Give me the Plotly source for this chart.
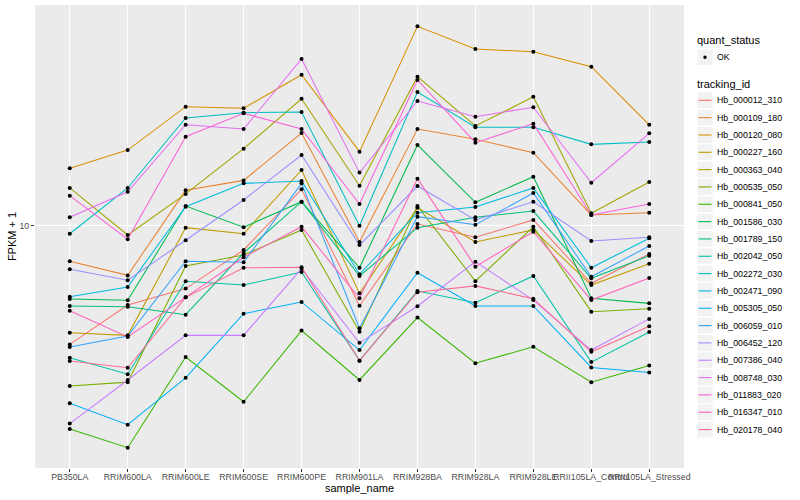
import plotly.graph_objects as go

# ---------------- data ----------------
samples = ["PB350LA", "RRIM600LA", "RRIM600LE", "RRIM600SE", "RRIM600PE",
           "RRIM901LA", "RRIM928BA", "RRIM928LA", "RRIM928LE",
           "RRII105LA_Control", "RRII105LA_Stressed"]

tracking_ids = ["Hb_000012_310", "Hb_000109_180", "Hb_000120_080", "Hb_000227_160",
                "Hb_000363_040", "Hb_000535_050", "Hb_000841_050", "Hb_001586_030",
                "Hb_001789_150", "Hb_002042_050", "Hb_002272_030", "Hb_002471_090",
                "Hb_005305_050", "Hb_006059_010", "Hb_006452_120", "Hb_007386_040",
                "Hb_008748_030", "Hb_011883_020", "Hb_016347_010", "Hb_020178_040"]

colors = ["#F8766D", "#EA8331", "#D89000", "#C09B00", "#A3A500", "#7CAE00",
          "#39B600", "#00BB4E", "#00BF7D", "#00C1A3", "#00BFC4", "#00BAE0",
          "#00B0F6", "#35A2FF", "#9590FF", "#C77CFF", "#E76BF3", "#FA62DB",
          "#FF62BC", "#FF6C91"]

# FPKM + 1 per sample (order of `samples`)
Hb_000012_310 = [4.02, 5.44, 6.17, 8.30, 13.22, 5.41, 10.13, 9.15, 10.45, 6.43, 8.05]
Hb_000109_180 = [7.61, 6.83, 13.12, 14.16, 20.37, 8.82, 21.0, 19.41, 17.51, 10.86, 11.05]
Hb_000120_080 = [15.54, 17.87, 24.93, 24.62, 31.86, 17.65, 46.2, 38.8, 38.0, 33.9, 21.7]
Hb_000227_160 = [4.40, 4.31, 9.85, 9.40, 15.34, 5.95, 11.48, 8.82, 9.68, 6.34, 7.47]
Hb_000363_040 = [13.36, 9.31, 12.76, 18.06, 26.5, 13.59, 31.4, 21.5, 26.9, 11.0, 13.98]
Hb_000535_050 = [2.92, 3.01, 7.34, 7.99, 9.68, 4.43, 11.63, 6.53, 9.92, 5.17, 5.29]
Hb_000841_050 = [2.10, 1.82, 3.65, 2.59, 4.47, 3.06, 4.94, 3.48, 3.95, 3.01, 3.42]
Hb_001586_030 = [5.70, 5.64, 11.63, 9.88, 12.02, 7.24, 18.58, 11.97, 14.57, 5.73, 5.51]
Hb_001789_150 = [5.40, 5.37, 5.05, 8.11, 12.02, 6.80, 9.85, 10.67, 11.19, 6.68, 7.94]
Hb_002042_050 = [3.63, 3.20, 6.53, 6.34, 7.01, 3.55, 6.06, 5.54, 6.80, 3.51, 4.42]
Hb_002272_030 = [9.40, 13.36, 22.86, 23.81, 23.93, 10.0, 27.9, 21.28, 21.28, 18.67, 19.01]
Hb_002471_090 = [5.80, 6.25, 11.57, 13.84, 14.09, 6.89, 11.05, 11.54, 13.36, 7.24, 9.08]
Hb_005305_050 = [2.56, 2.17, 3.11, 5.09, 5.57, 3.85, 6.97, 5.40, 5.40, 3.37, 3.24]
Hb_006059_010 = [3.94, 4.29, 7.61, 7.55, 13.84, 4.55, 10.72, 10.08, 12.85, 6.76, 8.56]
Hb_006452_120 = [7.16, 6.58, 8.94, 12.18, 17.21, 8.62, 13.56, 10.45, 12.02, 8.89, 9.15]
Hb_007386_040 = [2.19, 3.06, 4.31, 4.31, 7.19, 4.07, 5.39, 7.59, 5.65, 3.85, 4.89]
Hb_008748_030 = [10.67, 12.98, 21.7, 21.0, 35.95, 15.03, 26.04, 23.09, 24.82, 13.91, 20.32]
Hb_011883_020 = [12.59, 9.01, 19.8, 23.7, 21.0, 11.81, 30.6, 18.91, 21.88, 10.86, 11.81]
Hb_016347_010 = [5.21, 4.26, 5.77, 7.85, 9.92, 5.73, 14.35, 7.30, 9.55, 5.65, 6.69]
Hb_020178_040 = [3.54, 3.36, 5.77, 7.24, 7.27, 3.55, 6.00, 6.30, 5.71, 3.80, 4.62]

series = [Hb_000012_310, Hb_000109_180, Hb_000120_080, Hb_000227_160, Hb_000363_040,
          Hb_000535_050, Hb_000841_050, Hb_001586_030, Hb_001789_150, Hb_002042_050,
          Hb_002272_030, Hb_002471_090, Hb_005305_050, Hb_006059_010, Hb_006452_120,
          Hb_007386_040, Hb_008748_030, Hb_011883_020, Hb_016347_010, Hb_020178_040]

quant_status = "OK"

# ---------------- figure ----------------
FONT = "Liberation Sans, Arial, sans-serif"
fig = go.Figure()

for name, vals, col in zip(tracking_ids, series, colors):
    fig.add_trace(go.Scatter(x=samples, y=vals, mode="lines", name=name,
                             line=dict(color=col, width=1.05),
                             showlegend=False, hoverinfo="skip"))

pts_x, pts_y = [], []
for vals in series:
    pts_x += samples
    pts_y += vals
fig.add_trace(go.Scatter(x=pts_x, y=pts_y, mode="markers", name=quant_status,
                         marker=dict(color="black", size=4), showlegend=False))

# plot panel geometry (pixels)
W, H = 800, 500
L, R, T, B = 35, 684, 5, 468

fig.update_layout(
    width=W, height=H,
    margin=dict(l=L, r=W - R, t=T, b=H - B, pad=0, autoexpand=False),
    plot_bgcolor="#EBEBEB", paper_bgcolor="white",
    font=dict(family=FONT, color="black"),
    showlegend=False,
)
fig.update_xaxes(
    type="category", range=[-0.6, len(samples) - 0.4], automargin=False,
    showgrid=True, gridcolor="white", gridwidth=1.1, zeroline=False, showline=False,
    ticks="outside", ticklen=3, tickwidth=1, tickcolor="#333333",
    tickangle=0, tickfont=dict(size=8.8, color="#4D4D4D", family=FONT),
    ticklabelstandoff=-3,
    title=dict(text="sample_name", font=dict(size=11, family=FONT), standoff=0),
)
fig.update_yaxes(
    type="log", range=[0.19233, 1.7357], automargin=False,
    tickvals=[10], ticktext=["10"],
    showgrid=True, gridcolor="white", gridwidth=1.1, zeroline=False, showline=False,
    ticks="outside", ticklen=3, tickwidth=1, tickcolor="#333333",
    tickfont=dict(size=8.8, color="#4D4D4D", family=FONT),
    title=dict(text="FPKM + 1", font=dict(size=11, family=FONT), standoff=0),
)

# ---------------- legend (ggplot style) ----------------
def px(x):
    return (x - L) / (R - L)

def py(y):
    return (B - y) / (B - T)

shapes, annots = [], []
kx0, kx1 = 697, 713

annots.append(dict(text="quant_status", x=px(695), y=py(40.5), xref="paper", yref="paper",
                   xanchor="left", yanchor="middle", showarrow=False,
                   font=dict(size=11, family=FONT, color="black")))
cy = 57.3
shapes.append(dict(type="rect", xref="paper", yref="paper", x0=px(kx0), x1=px(kx1),
                   y0=py(cy - 8.3), y1=py(cy + 8.3), fillcolor="#F2F2F2",
                   line=dict(color="white", width=1), layer="below"))
shapes.append(dict(type="circle", xref="paper", yref="paper", x0=px(703.3), x1=px(706.7),
                   y0=py(cy - 1.7), y1=py(cy + 1.7), fillcolor="black",
                   line=dict(color="black", width=0)))
annots.append(dict(text=quant_status, x=px(715), y=py(cy), xref="paper", yref="paper",
                   xanchor="left", yanchor="middle", showarrow=False,
                   font=dict(size=8.8, family=FONT, color="black")))

annots.append(dict(text="tracking_id", x=px(695), y=py(84), xref="paper", yref="paper",
                   xanchor="left", yanchor="middle", showarrow=False,
                   font=dict(size=11, family=FONT, color="black")))
for i, (name, col) in enumerate(zip(tracking_ids, colors)):
    cy = 100.3 + 17.33 * i
    shapes.append(dict(type="rect", xref="paper", yref="paper", x0=px(kx0), x1=px(kx1),
                       y0=py(cy - 8.4), y1=py(cy + 8.4), fillcolor="#F2F2F2",
                       line=dict(color="white", width=1), layer="below"))
    shapes.append(dict(type="line", xref="paper", yref="paper", x0=px(698.5), x1=px(711.5),
                       y0=py(cy), y1=py(cy), line=dict(color=col, width=1.1)))
    annots.append(dict(text=name, x=px(715), y=py(cy), xref="paper", yref="paper",
                       xanchor="left", yanchor="middle", showarrow=False,
                       font=dict(size=8.8, family=FONT, color="black")))

fig.update_layout(shapes=shapes, annotations=annots)

fig.write_html("out.html", config={"displayModeBar": False},
               post_script="document.body.style.margin='0px';document.body.style.overflow='hidden';")
